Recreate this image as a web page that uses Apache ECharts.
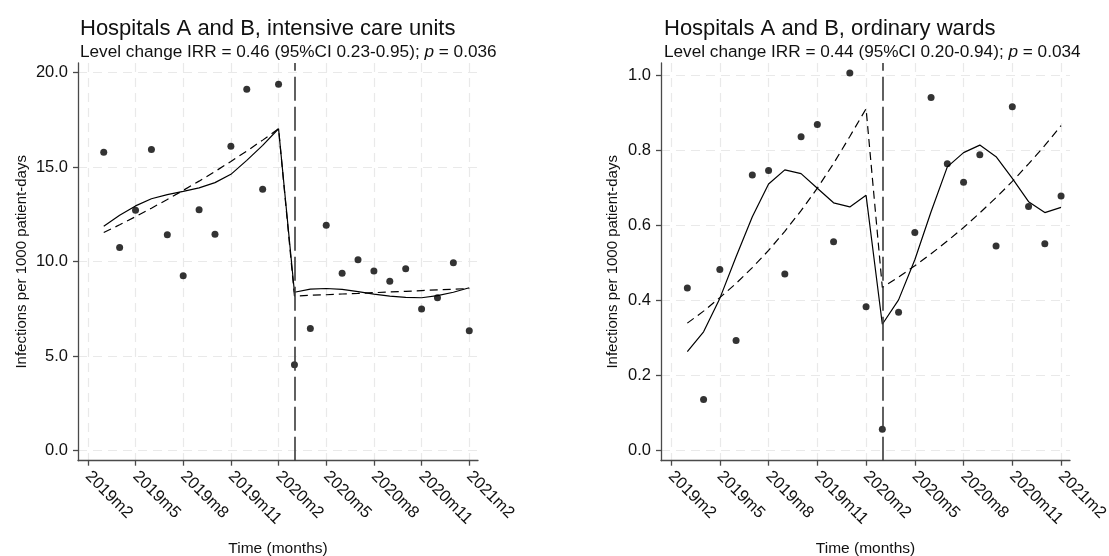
<!DOCTYPE html>
<html><head><meta charset="utf-8">
<script src="https://cdn.jsdelivr.net/npm/echarts@6/dist/echarts.min.js"></script>
<style>html,body{margin:0;padding:0;background:#fff}#c{width:1109px;height:556px}</style>
</head><body><div id="c"></div>
<script>
// month index: 2019m1 = 1
const monthX = [3,4,5,6,7,8,9,10,11,12,13,14,15,16,17,18,19,20,21,22,23,24,25,26];
const tickValues = [2,5,8,11,14,17,20,23,26];
const tickLabels = ['2019m2','2019m5','2019m8','2019m11','2020m2','2020m5','2020m8','2020m11','2021m2'];
const interventionX = 15; // 2020m3

const icuObserved = [15.79,10.75,12.72,15.94,11.43,9.25,12.75,11.45,16.11,19.12,13.83,19.38,
                     4.54,6.47,11.93,9.39,10.10,9.50,8.97,9.62,7.49,8.09,9.94,6.35];
const icuFitted   = [11.87,12.45,12.95,13.33,13.55,13.72,13.90,14.18,14.62,15.36,16.15,17.03,
                     8.38,8.55,8.58,8.53,8.41,8.28,8.18,8.11,8.09,8.20,8.38,8.62];
const icuTrend    = [11.54,11.95,12.38,12.83,13.29,13.77,14.26,14.77,15.30,15.85,16.43,17.03,
                     8.18,8.22,8.25,8.29,8.32,8.36,8.40,8.43,8.47,8.51,8.54,8.58];
const icuTicks = [0,5,10,15,20];

const wardObserved = [0.434,0.136,0.483,0.294,0.735,0.747,0.471,0.837,0.870,0.557,1.007,0.384,
                      0.057,0.369,0.582,0.942,0.765,0.716,0.789,0.546,0.917,0.651,0.552,0.679];
const wardFitted   = [0.264,0.317,0.406,0.517,0.624,0.711,0.749,0.739,0.700,0.661,0.650,0.681,
                      0.337,0.402,0.509,0.637,0.757,0.795,0.815,0.784,0.726,0.664,0.635,0.649];
const wardTrend    = [0.340,0.372,0.408,0.446,0.488,0.534,0.585,0.640,0.700,0.766,0.838,0.912,
                      0.435,0.463,0.493,0.525,0.559,0.595,0.634,0.675,0.718,0.765,0.814,0.867];
const wardTicks = [0,0.2,0.4,0.6,0.8,1.0];

const titles = ['Hospitals A and B, intensive care units','Hospitals A and B, ordinary wards'];
const subtitles = [['Level change IRR = 0.46 (95%CI 0.23-0.95); ','0.036'],
                   ['Level change IRR = 0.44 (95%CI 0.20-0.94); ','0.034']];
const xName = 'Time (months)';
const yName = 'Infections per 1000 patient-days';

const FONT = 'Liberation Sans, Arial, Helvetica, sans-serif';
const AXC = '#4a4a4a';
const GRIDC = '#e9e9e9';

const pairs = (ys) => monthX.map((x,i)=>[x, ys[i]]);

function xAxisDef(gi){
  return {
    type:'value', gridIndex:gi, min:1.38, max:26.55,
    name:xName, nameLocation:'middle', nameGap:80,
    nameTextStyle:{fontFamily:FONT,fontSize:15.5,color:'#111'},
    axisLine:{show:true,onZero:false,lineStyle:{color:AXC,width:1.3}},
    axisTick:{show:true,length:5,customValues:tickValues,lineStyle:{color:AXC,width:1.3}},
    axisLabel:{customValues:tickValues,rotate:-45,margin:13,fontFamily:FONT,fontSize:16.5,color:'#111',
      formatter:(v)=>{const i=tickValues.indexOf(Math.round(v));return i>=0?tickLabels[i]:'';}},
    splitLine:{show:true,lineStyle:{color:GRIDC,width:1.2,type:[9,6]}}
  };
}
function yAxisDef(gi, min, max, ticks, gap){
  return {
    type:'value', gridIndex:gi, min:min, max:max,
    name:yName, nameLocation:'middle', nameGap:gap,
    nameTextStyle:{fontFamily:FONT,fontSize:15,color:'#111'},
    axisLine:{show:true,onZero:false,lineStyle:{color:AXC,width:1.3}},
    axisTick:{show:true,length:5,customValues:ticks,lineStyle:{color:AXC,width:1.3}},
    axisLabel:{customValues:ticks,margin:10,fontFamily:FONT,fontSize:16.5,color:'#111',
      formatter:(v)=>v.toFixed(1)},
    splitLine:{show:true,lineStyle:{color:GRIDC,width:1.2,type:[9,6]}}
  };
}
function panelSeries(gi, obs, fit, trend){
  return [
    {type:'line', xAxisIndex:gi, yAxisIndex:gi, data:pairs(trend), symbol:'none', z:3,
     lineStyle:{color:'#000',width:1.2,type:[8,5]},
     markLine:{silent:true,symbol:'none',label:{show:false},
       lineStyle:{color:'#3a3a3a',width:1.6,type:[24,6]},
       data:[{xAxis:interventionX}]}},
    {type:'line', xAxisIndex:gi, yAxisIndex:gi, data:pairs(fit), symbol:'none', z:3,
     lineStyle:{color:'#000',width:1.2,type:'solid'}},
    {type:'scatter', xAxisIndex:gi, yAxisIndex:gi, data:pairs(obs), symbol:'circle', symbolSize:7, z:4,
     itemStyle:{color:'#000'}}
  ];
}
function titleDefs(i, left){
  const n = {fontFamily:FONT,fontSize:17.2,fontWeight:'normal',color:'#111'};
  return [
    {left:left, top:18, padding:0, text:titles[i], textStyle:{fontFamily:FONT,fontSize:22,fontWeight:'normal',color:'#111'}},
    {left:left, top:44, padding:0, text:'{n|'+subtitles[i][0]+'}{it|p}{n| = '+subtitles[i][1]+'}',
     textStyle:{fontWeight:'normal',rich:{n:n,it:Object.assign({},n,{fontStyle:'italic'})}}}
  ];
}

const chart = echarts.init(document.getElementById('c'), null, {renderer:'canvas'});
chart.setOption({
  animation:false,
  backgroundColor:'#fff',
  title:[...titleDefs(0,80), ...titleDefs(1,664)],
  grid:[
    {left:78, right:631, top:63, bottom:95.3, containLabel:false, outerBoundsMode:'none'},
    {left:661, right:39, top:63, bottom:95.3, containLabel:false, outerBoundsMode:'none'}
  ],
  xAxis:[xAxisDef(0), xAxisDef(1)],
  yAxis:[yAxisDef(0,-0.53,20.51,icuTicks,49), yAxisDef(1,-0.027,1.034,wardTicks,41)],
  series:[...panelSeries(0,icuObserved,icuFitted,icuTrend), ...panelSeries(1,wardObserved,wardFitted,wardTrend)]
});
</script></body></html>
